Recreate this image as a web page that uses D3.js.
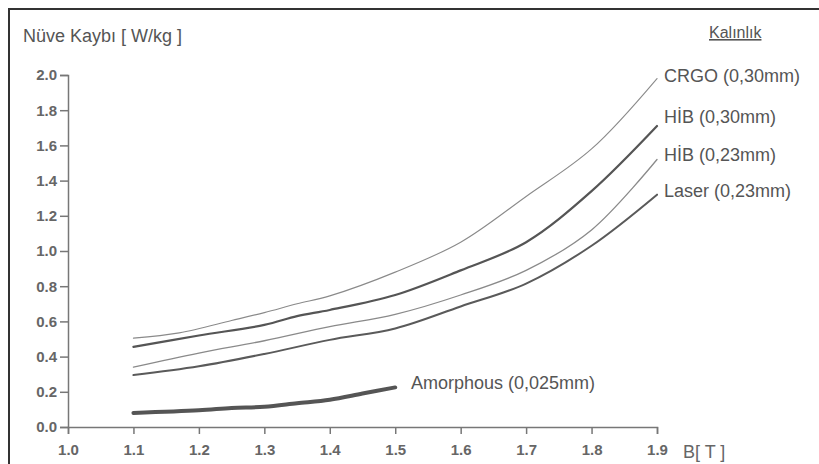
<!DOCTYPE html>
<html>
<head>
<meta charset="utf-8">
<script src="https://cdn.jsdelivr.net/npm/d3@7"></script>
<style>
  html, body { margin: 0; padding: 0; background: #fff; }
  text { font-family: "Liberation Sans", Arial, sans-serif; }
</style>
</head>
<body>
<script>
"use strict";

// B [T] vs. core loss [W/kg]
var xTicks = [1.0, 1.1, 1.2, 1.3, 1.4, 1.5, 1.6, 1.7, 1.8, 1.9];
var yTicks = [0.0, 0.2, 0.4, 0.6, 0.8, 1.0, 1.2, 1.4, 1.6, 1.8, 2.0];

var crgo030 = [[1.1, 0.505], [1.17, 0.535], [1.25, 0.605], [1.3, 0.65], [1.35, 0.70], [1.4, 0.745],
  [1.5, 0.88], [1.6, 1.05], [1.7, 1.31], [1.8, 1.58], [1.9, 1.98]];
var hib030 = [[1.1, 0.455], [1.2, 0.52], [1.3, 0.58], [1.35, 0.63], [1.4, 0.665], [1.5, 0.75],
  [1.6, 0.89], [1.7, 1.05], [1.8, 1.34], [1.9, 1.71]];
var hib023 = [[1.1, 0.34], [1.2, 0.42], [1.3, 0.49], [1.4, 0.57], [1.5, 0.64], [1.6, 0.75],
  [1.7, 0.89], [1.8, 1.12], [1.9, 1.52]];
var laser023 = [[1.1, 0.295], [1.2, 0.345], [1.3, 0.415], [1.4, 0.495], [1.5, 0.56], [1.6, 0.685],
  [1.7, 0.815], [1.8, 1.03], [1.9, 1.32]];
var amorphous = [[1.1, 0.08], [1.2, 0.095], [1.25, 0.108], [1.3, 0.115], [1.35, 0.135],
  [1.4, 0.155], [1.45, 0.19], [1.5, 0.225]];

var seriesNames = ["CRGO (0,30mm)", "HİB (0,30mm)", "HİB (0,23mm)", "Laser (0,23mm)", "Amorphous (0,025mm)"];

(function () {

  var width = 819;
  var height = 464;
  var margin = { left: 68, right: 162, top: 75, bottom: 37 };

  var series = [
    { name: seriesNames[0], data: crgo030, stroke: "#8a8a8a", w: 1.1, lx: 664, ly: 82 },
    { name: seriesNames[1], data: hib030, stroke: "#555", w: 2.2, lx: 664, ly: 123 },
    { name: seriesNames[2], data: hib023, stroke: "#8a8a8a", w: 1.3, lx: 664, ly: 161 },
    { name: seriesNames[3], data: laser023, stroke: "#5a5a5a", w: 2, lx: 664, ly: 197 },
    { name: seriesNames[4], data: amorphous, stroke: "#555", w: 4, lx: 411, ly: 389 }
  ];

  var svg = d3.select("body")
    .append("svg")
    .attr("width", width)
    .attr("height", height);

  // frame (only top and left edges show in the crop)
  svg.append("path")
    .attr("d", "M9," + height + "V9H" + width)
    .attr("fill", "none")
    .attr("stroke", "#333")
    .attr("stroke-width", 2);

  var x = d3.scaleLinear()
    .domain([1.0, 1.9])
    .range([margin.left, width - margin.right]);

  var y = d3.scaleLinear()
    .domain([0, 2.0])
    .range([height - margin.bottom, margin.top]);

  var xAxis = svg.append("g")
    .attr("transform", "translate(0," + y(0) + ")")
    .call(d3.axisBottom(x).tickValues(xTicks).tickFormat(d3.format(".1f")).tickSizeOuter(0).tickSize(7).tickPadding(10));

  var yAxis = svg.append("g")
    .attr("transform", "translate(" + x(1.0) + ",0)")
    .call(d3.axisLeft(y).tickValues(yTicks).tickFormat(d3.format(".1f")).tickSizeOuter(0).tickSize(8).tickPadding(3));

  [xAxis, yAxis].forEach(function (a) {
    a.select(".domain").attr("stroke", "#777").attr("stroke-width", 1.5);
    a.selectAll(".tick line").attr("stroke", "#777").attr("stroke-width", 1.5);
    a.selectAll(".tick text")
      .attr("fill", "#666")
      .attr("font-size", 15)
      .attr("font-weight", "bold")
      .style("font-family", "'Liberation Sans', Arial, sans-serif");
  });

  var line = d3.line()
    .x(function (d) { return x(d[0]); })
    .y(function (d) { return y(d[1]); })
    .curve(d3.curveCatmullRom.alpha(0.5));

  svg.append("g")
    .selectAll("path")
    .data(series)
    .enter()
    .append("path")
    .attr("d", function (d) { return line(d.data); })
    .attr("fill", "none")
    .attr("stroke", function (d) { return d.stroke; })
    .attr("stroke-width", function (d) { return d.w; })
    .attr("stroke-linecap", "round");

  svg.append("g")
    .selectAll("text")
    .data(series)
    .enter()
    .append("text")
    .attr("x", function (d) { return d.lx; })
    .attr("y", function (d) { return d.ly; })
    .attr("font-size", 18)
    .attr("fill", "#555")
    .text(function (d) { return d.name; });

  svg.append("text")
    .attr("x", 23)
    .attr("y", 42)
    .attr("font-size", 18)
    .attr("fill", "#555")
    .text("Nüve Kaybı [ W/kg ]");

  svg.append("text")
    .attr("x", 683)
    .attr("y", 458)
    .attr("font-size", 18)
    .attr("fill", "#666")
    .text("B[ T ]");

  svg.append("text")
    .attr("x", 709)
    .attr("y", 38)
    .attr("font-size", 16)
    .attr("fill", "#555")
    .attr("text-decoration", "underline")
    .text("Kalınlık");

})();
</script>
</body>
</html>
